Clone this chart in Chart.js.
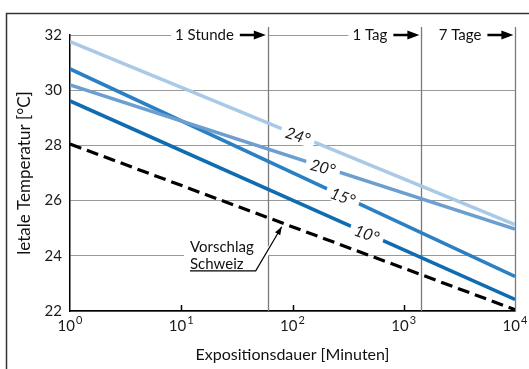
<!DOCTYPE html>
<html><head><meta charset="utf-8">
<script src="https://cdn.jsdelivr.net/npm/chart.js@4/dist/chart.umd.min.js"></script>
<style>html,body{margin:0;padding:0;background:#fff}canvas{display:block}</style>
</head><body>
<canvas id="c" width="529" height="369"></canvas>
<script>
// ---- data ----
const xEnds = [1, 10000];                 // Expositionsdauer [Minuten]
const series24 = [31.76, 25.13];
const series20 = [30.19, 24.97];
const series15 = [30.77, 23.25];
const series10 = [29.61, 22.42];
const seriesCH = [28.05, 22.05];          // Vorschlag Schweiz
const seriesNames = ['24°', '20°', '15°', '10°'];
const labelAtMinutes = [112, 188, 284, 467];
const xTicks = [1, 10, 100, 1000, 10000];
const xTickBase = '10';
const xTickExp = ['0', '1', '2', '3', '4'];
const yTicks = [22, 24, 26, 28, 30, 32];
const markerMinutes = [60, 1440, 10080];
const markerLabels = ['1 Stunde', '1 Tag', '7 Tage'];
const calloutLines = ['Vorschlag', 'Schweiz'];
const calloutAtMinutes = 80;
const xTitle = 'Expositionsdauer [Minuten]';
const yTitle = 'letale Temperatur [°C]';

const FONT = 'Lato, "Open Sans", sans-serif';
const colors = ['#a9c9e7', '#6c9fd0', '#2b80c3', '#0f6cb0'];
const allSeries = [series24, series20, series15, series10];

function pts(arr) { return xEnds.map((x, i) => ({ x: x, y: arr[i] })); }

const datasets = allSeries.map((s, i) => ({
  label: seriesNames[i], data: pts(s), borderColor: colors[i], borderWidth: 3.5,
  pointRadius: 0, fill: false, tension: 0
}));
datasets.push({ label: calloutLines.join(' '), data: pts(seriesCH), borderColor: '#000',
  borderWidth: 3.2, borderDash: [12, 6], pointRadius: 0, fill: false });

function arrowRight(c, x0, x1, y) {
  c.save();
  c.strokeStyle = '#000'; c.fillStyle = '#000'; c.lineWidth = 2.5;
  c.beginPath(); c.moveTo(x0, y); c.lineTo(x1 - 10, y); c.stroke();
  c.beginPath(); c.moveTo(x1, y); c.lineTo(x1 - 12, y - 4.5); c.lineTo(x1 - 12, y + 4.5); c.closePath(); c.fill();
  c.restore();
}

const deco = {
  id: 'deco',
  beforeDraw(chart) {
    const c = chart.ctx;
    c.save();
    c.fillStyle = '#fff'; c.fillRect(0, 0, chart.width, chart.height);
    c.strokeStyle = '#333'; c.lineWidth = 1.5;
    c.strokeRect(6.5, 13.5, 700, 700);
    c.restore();
  },
  beforeDatasetsDraw(chart) {
    const c = chart.ctx, xs = chart.scales.x, ys = chart.scales.y, a = chart.chartArea;
    const yTop = ys.getPixelForValue(yTicks[yTicks.length - 1]);
    c.save();
    c.font = '15px ' + FONT;
    const mx = markerMinutes.map(m => xs.getPixelForValue(m));
    mx.forEach((lx, i) => {
      const tw = c.measureText(markerLabels[i]).width;
      let left = lx - 33 - tw - 5;
      if (i === mx.length - 1) left = mx[i - 1] + 1;
      c.fillStyle = '#fff';
      c.fillRect(left, yTop - 4, (i === mx.length - 1 ? a.right + 10 : lx) - left, 8);
    });
    const tipX = xs.getPixelForValue(calloutAtMinutes);
    const y24 = ys.getPixelForValue(24);
    c.fillStyle = '#fff';
    c.fillRect(184, y24 - 4, tipX - 17 - 184, 8);
    c.strokeStyle = '#7a7a7a'; c.lineWidth = 1.3;
    mx.forEach(lx => {
      c.beginPath(); c.moveTo(Math.round(lx) + 0.5, a.top - 8); c.lineTo(Math.round(lx) + 0.5, a.bottom); c.stroke();
    });
    c.restore();
  },
  afterDatasetsDraw(chart) {
    const c = chart.ctx, xs = chart.scales.x, ys = chart.scales.y, a = chart.chartArea;
    c.save();
    c.font = 'italic 16px ' + FONT;
    allSeries.forEach((s, i) => {
      const p0x = xs.getPixelForValue(xEnds[0]), p1x = xs.getPixelForValue(xEnds[1]);
      const p0y = ys.getPixelForValue(s[0]), p1y = ys.getPixelForValue(s[1]);
      const lx = xs.getPixelForValue(labelAtMinutes[i]);
      const t = (lx - p0x) / (p1x - p0x);
      const ly = p0y + t * (p1y - p0y);
      const ang = Math.atan2(p1y - p0y, p1x - p0x) * 0.8;
      const tw = c.measureText(seriesNames[i]).width;
      c.save();
      c.translate(lx, ly); c.rotate(ang);
      c.fillStyle = '#fff'; c.fillRect(-tw / 2 - 5, -8, tw + 10, 16);
      c.fillStyle = '#1a1a1a'; c.textAlign = 'center'; c.textBaseline = 'middle';
      c.fillText(seriesNames[i], 0, 1);
      c.restore();
    });
    c.strokeStyle = '#000'; c.lineWidth = 1.5;
    xTicks.slice(1, -1).forEach(v => {
      const x = Math.round(xs.getPixelForValue(v)) + 0.5;
      c.beginPath(); c.moveTo(x, a.bottom); c.lineTo(x, a.bottom - 6); c.stroke();
    });
    c.fillStyle = '#1a1a1a'; c.textBaseline = 'alphabetic';
    xTicks.forEach((v, i) => {
      const x = xs.getPixelForValue(v);
      c.font = '15px ' + FONT;
      const bw = c.measureText(xTickBase).width;
      c.font = '11px ' + FONT;
      const ew = c.measureText(xTickExp[i]).width;
      const left = x - (bw + ew + 1) / 2;
      c.font = '15px ' + FONT; c.textAlign = 'left';
      c.fillText(xTickBase, left, a.bottom + 20);
      c.font = '11px ' + FONT;
      c.fillText(xTickExp[i], left + bw + 1, a.bottom + 13);
    });
    c.font = '16px ' + FONT; c.fillStyle = '#111'; c.textAlign = 'center'; c.textBaseline = 'middle';
    c.fillText(xTitle, (a.left + a.right) / 2, 355);
    c.font = '17px ' + FONT;
    c.save(); c.translate(25, (a.top + a.bottom) / 2); c.rotate(-Math.PI / 2);
    c.fillText(yTitle, 0, 0); c.restore();
    const yTop = ys.getPixelForValue(yTicks[yTicks.length - 1]);
    c.font = '15px ' + FONT; c.textAlign = 'right'; c.textBaseline = 'middle'; c.fillStyle = '#111';
    markerMinutes.forEach((m, i) => {
      const lx = xs.getPixelForValue(m);
      c.fillText(markerLabels[i], lx - 34, yTop);
      arrowRight(c, lx - 28, lx - 2, yTop);
    });
    const tipX = xs.getPixelForValue(calloutAtMinutes);
    const tipY = ys.getPixelForValue(seriesCH[0] + (seriesCH[1] - seriesCH[0]) * Math.log10(calloutAtMinutes) / Math.log10(xEnds[1])) + 4;
    const y24 = ys.getPixelForValue(24);
    c.textAlign = 'left'; c.textBaseline = 'middle'; c.font = '15px ' + FONT;
    c.fillText(calloutLines[0], 190, y24 - 9);
    c.fillText(calloutLines[1], 190, y24 + 8);
    const ux = tipX - 26, uy = y24 + 15;
    c.strokeStyle = '#fff'; c.lineWidth = 5;
    c.beginPath(); c.moveTo(ux, uy); c.lineTo(tipX - 2, tipY + 6); c.stroke();
    c.strokeStyle = '#000'; c.lineWidth = 1.2;
    c.beginPath(); c.moveTo(190, uy); c.lineTo(ux, uy); c.lineTo(tipX, tipY); c.stroke();
    const ang = Math.atan2(tipY - uy, tipX - ux);
    c.fillStyle = '#000';
    c.beginPath(); c.moveTo(tipX, tipY);
    c.lineTo(tipX - 8 * Math.cos(ang) + 3 * Math.sin(ang), tipY - 8 * Math.sin(ang) - 3 * Math.cos(ang));
    c.lineTo(tipX - 8 * Math.cos(ang) - 3 * Math.sin(ang), tipY - 8 * Math.sin(ang) + 3 * Math.cos(ang));
    c.closePath(); c.fill();
    c.restore();
  }
};

new Chart(document.getElementById('c'), {
  type: 'line',
  data: { datasets: datasets },
  options: {
    responsive: false, animation: false,
    layout: { padding: { top: 35, right: 14, left: 0, bottom: 0 } },
    plugins: { legend: { display: false }, tooltip: { enabled: false } },
    scales: {
      x: {
        type: 'logarithmic', min: xTicks[0], max: xTicks[xTicks.length - 1],
        afterBuildTicks: s => { s.ticks = xTicks.map(v => ({ value: v })); },
        ticks: { display: false },
        grid: { display: false },
        border: { display: true, color: '#000', width: 1.5 },
        afterFit: s => { s.height = 58; }
      },
      y: {
        type: 'linear', min: yTicks[0], max: yTicks[yTicks.length - 1],
        afterBuildTicks: s => { s.ticks = yTicks.map(v => ({ value: v })); },
        ticks: { font: { family: FONT, size: 15 }, color: '#1a1a1a', padding: 8 },
        grid: { color: '#999', lineWidth: 1, drawTicks: false },
        border: { display: true, color: '#000', width: 1.5 },
        afterFit: s => { s.width = 70; }
      }
    }
  },
  plugins: [deco]
});
</script>
</body></html>
